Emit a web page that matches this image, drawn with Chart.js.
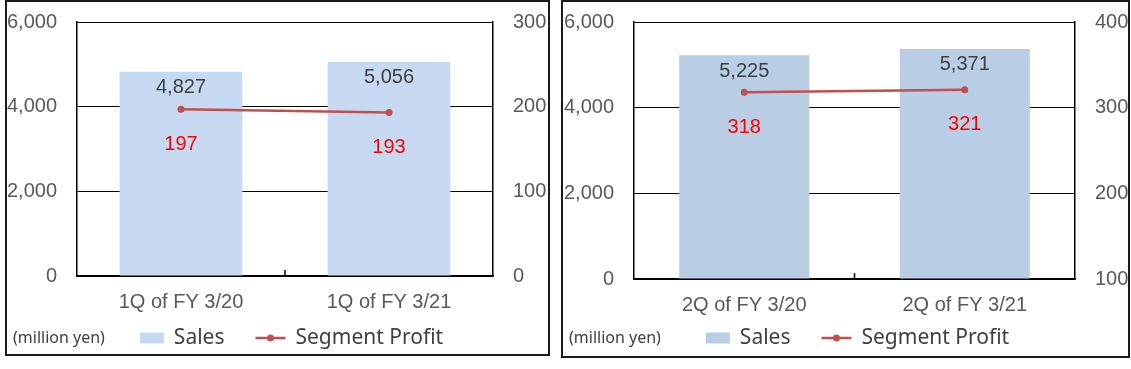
<!DOCTYPE html>
<html lang="en">
<head>
<meta charset="UTF-8">
<title>Sales and Segment Profit</title>
<script src="https://cdn.jsdelivr.net/npm/chart.js"></script>
<style>
  body { margin:0; background:#fff; width:1131px; height:369px; position:relative; overflow:hidden; }
  .wrap { position:absolute; top:0; height:369px; }
  .panel { position:absolute; top:0; border:2px solid #1a1a1a; box-sizing:border-box; pointer-events:none; }
</style>
</head>
<body>

<div class="wrap" style="left:0;width:555px;"><canvas id="chart1"></canvas></div>
<div class="wrap" style="left:556px;width:575px;"><canvas id="chart2"></canvas></div>
<div class="panel" style="left:5px;width:545px;height:356px;"></div>
<div class="panel" style="left:561px;width:569px;height:358px;"></div>

<script>
const labels1 = ['1Q of FY 3/20', '1Q of FY 3/21'];
const sales1 = [4827, 5056];
const profit1 = [197, 193];

const labels2 = ['2Q of FY 3/20', '2Q of FY 3/21'];
const sales2 = [5225, 5371];
const profit2 = [318, 321];

const unitNote = '(million yen)';
const tickFont = { family: '"Liberation Sans", Arial, sans-serif', size: 20 };
const fmt = v => v.toLocaleString('en-US');

// data labels, the small category tick and the legend row
const extras = {
  id: 'extras',
  afterDatasetsDraw(chart) {
    const ctx = chart.ctx;
    const area = chart.chartArea;
    const x = chart.scales.x;
    ctx.save();

    ctx.strokeStyle = '#000';
    ctx.lineWidth = 1.5;
    for (let i = 0; i < x.ticks.length - 1; i++) {
      const px = (x.getPixelForTick(i) + x.getPixelForTick(i + 1)) / 2;
      ctx.beginPath();
      ctx.moveTo(px, area.bottom);
      ctx.lineTo(px, area.bottom - 6);
      ctx.stroke();
    }

    ctx.textAlign = 'center';
    ctx.textBaseline = 'middle';
    ctx.font = '20px "Liberation Sans", Arial, sans-serif';
    chart.data.datasets.forEach((ds, di) => {
      chart.getDatasetMeta(di).data.forEach((el, i) => {
        ctx.fillStyle = ds.labelColor;
        ctx.fillText(fmt(ds.data[i]), el.x, el.y + ds.labelOffset);
      });
    });

    // legend
    const ly = 338;
    const line = chart.data.datasets[0], bar = chart.data.datasets[1];
    ctx.textAlign = 'left';
    ctx.fillStyle = '#404040';
    ctx.font = '16px "Noto Sans", sans-serif';
    ctx.fillText(unitNote, 13, ly);

    ctx.font = '21px "Noto Sans", sans-serif';
    const wS = ctx.measureText(bar.label).width;
    const wP = ctx.measureText(line.label).width;
    const total = 24 + 10 + wS + 31 + 30 + 10 + wP;
    let lx = chart.width / 2 + 14 - total / 2;

    ctx.fillStyle = bar.backgroundColor;
    ctx.fillRect(lx, ly - 5.5, 24, 11);
    lx += 34;
    ctx.fillStyle = '#404040';
    ctx.fillText(bar.label, lx, ly);
    lx += wS + 31;

    ctx.strokeStyle = line.borderColor;
    ctx.lineWidth = 2.5;
    ctx.beginPath();
    ctx.moveTo(lx, ly);
    ctx.lineTo(lx + 30, ly);
    ctx.stroke();
    ctx.fillStyle = line.borderColor;
    ctx.beginPath();
    ctx.arc(lx + 15, ly, 3.5, 0, Math.PI * 2);
    ctx.fill();
    lx += 40;
    ctx.fillStyle = '#404040';
    ctx.fillText(line.label, lx, ly);

    ctx.restore();
  }
};

function makeChart(id, labels, sales, profit, barColor, leftW, rightW, bottomH, pMin, pMax) {
  return new Chart(document.getElementById(id), {
    data: {
      labels: labels,
      datasets: [{
        type: 'line',
        label: 'Segment Profit',
        data: profit,
        yAxisID: 'y1',
        order: 0,
        borderColor: '#C0504D',
        borderWidth: 2.5,
        pointRadius: 3.5,
        pointBackgroundColor: '#C0504D',
        pointBorderWidth: 0,
        labelColor: '#FF0000',
        labelOffset: 35
      }, {
        type: 'bar',
        label: 'Sales',
        data: sales,
        yAxisID: 'y',
        order: 1,
        backgroundColor: barColor,
        barPercentage: 0.59,
        categoryPercentage: 1,
        labelColor: '#404040',
        labelOffset: 16
      }]
    },
    options: {
      responsive: true,
      maintainAspectRatio: false,
      animation: false,
      layout: { padding: { top: 22, left: 0, right: 0, bottom: 0 } },
      plugins: { legend: { display: false }, tooltip: { enabled: false } },
      scales: {
        x: {
          grid: { display: false, tickLength: 0 },
          border: { display: true, color: '#000', width: 1.5 },
          ticks: { font: tickFont, color: '#595959', padding: 14, maxRotation: 0 },
          afterFit: s => { s.height = bottomH; }
        },
        y: {
          position: 'left',
          min: 0, max: 6000,
          grid: { color: '#000', lineWidth: 1, drawTicks: true, tickLength: 20, tickColor: 'rgba(0,0,0,0)' },
          border: { display: true, color: '#000', width: 1.5 },
          ticks: { stepSize: 2000, font: tickFont, color: '#595959', padding: 0, callback: v => fmt(v) },
          afterFit: s => { s.width = leftW; }
        },
        y1: {
          position: 'right',
          min: pMin, max: pMax,
          grid: { display: false, drawTicks: true, tickLength: 20 },
          border: { display: true, color: '#000', width: 1.5 },
          ticks: { stepSize: 100, font: tickFont, color: '#595959', padding: 0 },
          afterFit: s => { s.width = rightW; }
        }
      }
    },
    plugins: [extras]
  });
}

var chart1 = makeChart('chart1', labels1, sales1, profit1, '#C6D9F1', 77, 62, 93, 0, 300);
var chart2 = makeChart('chart2', labels2, sales2, profit2, '#B9CDE5', 78, 56, 90, 100, 400);
</script>

</body>
</html>
